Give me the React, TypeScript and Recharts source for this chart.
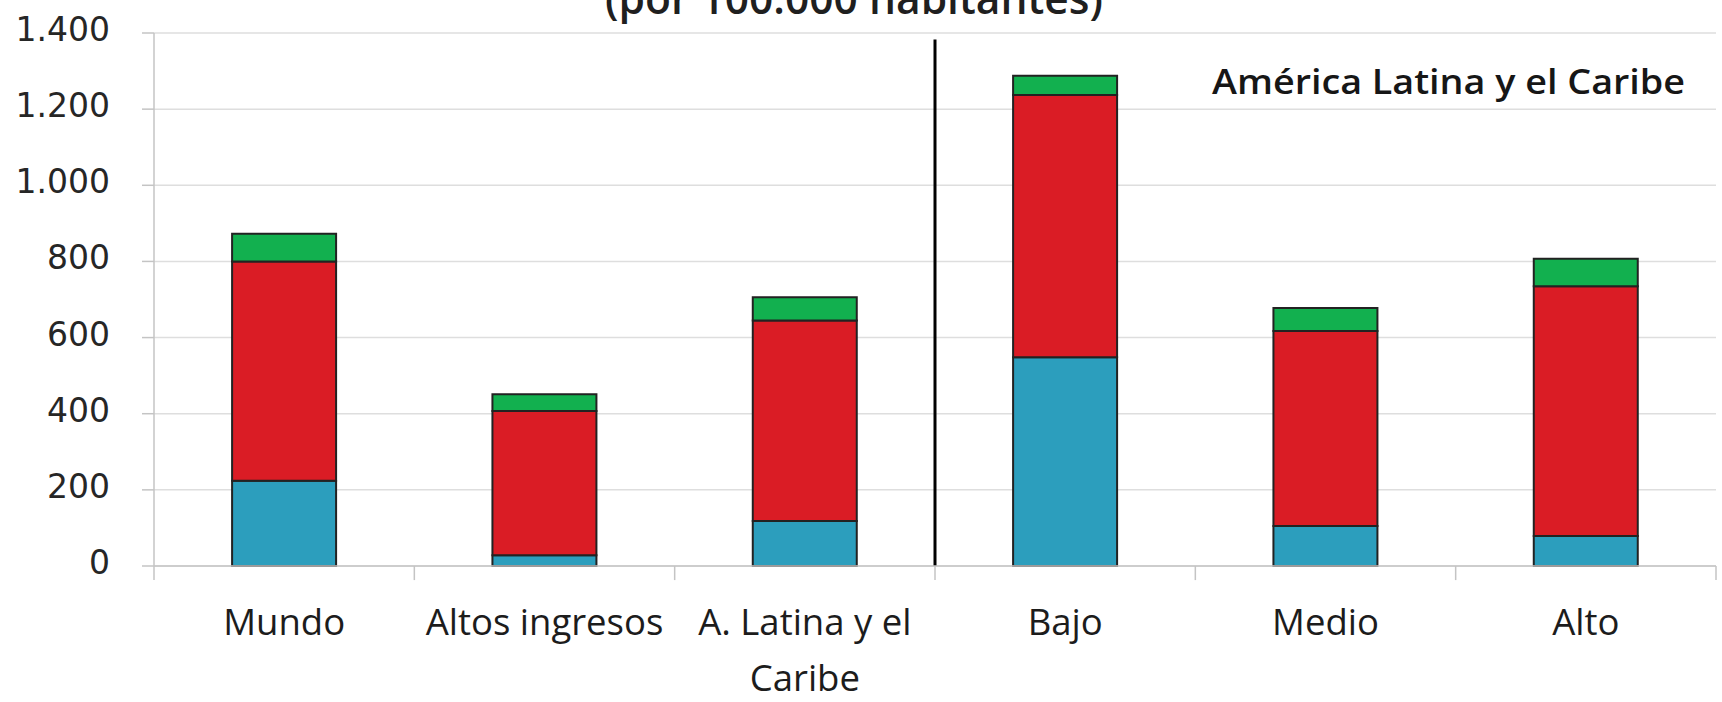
import React from 'react';
import { BarChart, Bar, XAxis, YAxis, CartesianGrid, ReferenceLine } from 'recharts';

// Categorías del eje X ("\n" marca el salto de línea de la etiqueta)
const categories = ['Mundo', 'Altos ingresos', 'A. Latina y el\nCaribe', 'Bajo', 'Medio', 'Alto'];

// Tasas por 100.000 habitantes, por tramo apilado
const serieAzul = [224, 28, 118, 548, 105, 79];
const serieRoja = [576, 379, 527, 689, 512, 656];
const serieVerde = [73, 44, 61, 51, 61, 72];

const yTicks = [0, 200, 400, 600, 800, 1000, 1200, 1400];
const dividerTop = 1383;

const titulo = '(por 100.000 habitantes)';
const rotuloRegion = 'América Latina y el Caribe';

const data = categories.map((name, i) => ({
  name,
  azul: serieAzul[i],
  roja: serieRoja[i],
  verde: serieVerde[i],
}));

const W = 1722;
const H = 702;

const AXIS_GRAY = '#c4c4c4';
const GRID_GRAY = '#dedede';
const BAR_STROKE = '#222222';

const fmtMiles = (v: number) => String(v).replace(/\B(?=(\d{3})+(?!\d))/g, '.');

const XTick = (props: any) => {
  const { x, y, payload } = props;
  const lines = String(payload.value).split('\n');
  return (
    <g>
      {lines.map((line: string, i: number) => (
        <text
          key={i}
          x={x}
          y={y + 69 + i * 56}
          textAnchor="middle"
          fontFamily="'Open Sans', 'DejaVu Sans', sans-serif"
          fontSize={36.5}
          fill="#1c1c1c"
        >
          {line}
        </text>
      ))}
    </g>
  );
};

const YTick = (props: any) => {
  const { x, y, payload } = props;
  return (
    <text
      x={x}
      y={y}
      dy={8}
      textAnchor="end"
      fontFamily="'DejaVu Sans', Verdana, sans-serif"
      fontSize={33}
      fill="#262626"
    >
      {fmtMiles(payload.value)}
    </text>
  );
};

export default function App() {
  const last = categories[categories.length - 1];
  return (
    <div style={{ position: 'absolute', left: 0, top: 0, width: W, height: H, background: '#fff' }}>
      <BarChart
        width={W}
        height={H}
        data={data}
        margin={{ top: 33, right: 6, bottom: 0, left: 0 }}
        barCategoryGap="30%"
      >
        <CartesianGrid horizontal vertical={false} stroke={GRID_GRAY} strokeWidth={1.5} />
        <XAxis
          dataKey="name"
          height={136}
          tickLine={false}
          tickSize={0}
          tickMargin={0}
          axisLine={{ stroke: AXIS_GRAY, strokeWidth: 1.5 }}
          tick={<XTick />}
          interval={0}
        />
        <YAxis
          width={154}
          domain={[0, 1400]}
          ticks={yTicks}
          interval={0}
          tickSize={12}
          tickMargin={32}
          tickLine={{ stroke: AXIS_GRAY, strokeWidth: 1.5 }}
          axisLine={{ stroke: AXIS_GRAY, strokeWidth: 1.5 }}
          tick={<YTick />}
        />
        <Bar dataKey="azul" stackId="t" fill="#2c9ebd" stroke={BAR_STROKE} strokeWidth={2} isAnimationActive={false} />
        <Bar dataKey="roja" stackId="t" fill="#da1c25" stroke={BAR_STROKE} strokeWidth={2} isAnimationActive={false} />
        <Bar dataKey="verde" stackId="t" fill="#12b04f" stroke={BAR_STROKE} strokeWidth={2} isAnimationActive={false} />

        {/* marcas del eje X en los límites de cada categoría */}
        {categories.map((c) => (
          <ReferenceLine
            key={'tick-' + c}
            segment={[{ x: c, y: 0 }, { x: c, y: -37 }]}
            position="start"
            ifOverflow="visible"
            stroke={AXIS_GRAY}
            strokeWidth={1.5}
          />
        ))}
        <ReferenceLine
          segment={[{ x: last, y: 0 }, { x: last, y: -37 }]}
          position="end"
          ifOverflow="visible"
          stroke={AXIS_GRAY}
          strokeWidth={1.5}
        />

        {/* separador entre agregados y grupos de la región */}
        <ReferenceLine
          segment={[{ x: categories[2], y: 0 }, { x: categories[2], y: dividerTop }]}
          position="end"
          ifOverflow="visible"
          stroke="#000"
          strokeWidth={3}
        />

        <text
          x={854}
          y={14}
          textAnchor="middle"
          fontFamily="'Open Sans', sans-serif"
          fontSize={44}
          fontWeight={600}
          fill="#1f1f1f"
          textLength={498}
          lengthAdjust="spacingAndGlyphs"
        >
          {titulo}
        </text>
        <text
          x={1212}
          y={94}
          fontFamily="'Open Sans', sans-serif"
          fontSize={34}
          fontWeight={600}
          fill="#161616"
          textLength={473}
          lengthAdjust="spacingAndGlyphs"
        >
          {rotuloRegion}
        </text>
      </BarChart>
    </div>
  );
}
